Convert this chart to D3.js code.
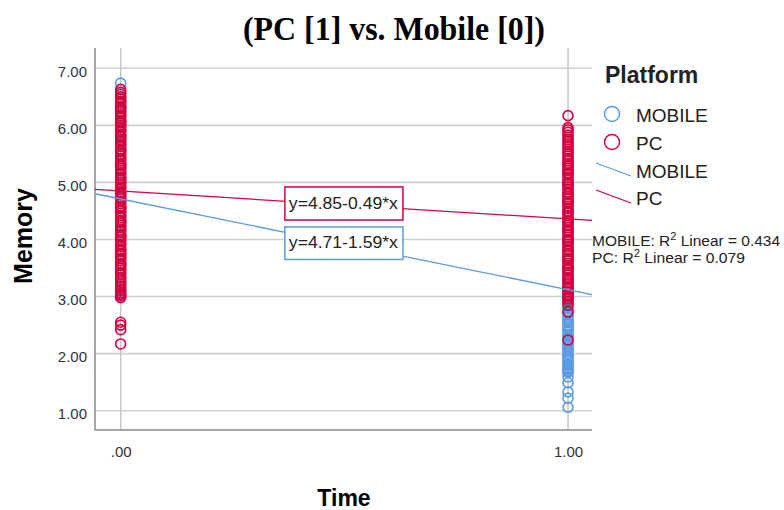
<!DOCTYPE html>
<html>
<head>
<meta charset="utf-8">
<script src="https://cdn.jsdelivr.net/npm/d3@7"></script>
<style>
  body { margin: 0; background: #fff; }
  text { font-family: "Liberation Sans", Arial, sans-serif; }
</style>
</head>
<body>
<svg id="chart" width="784" height="510"></svg>
<script>
// Memory scores by platform, Time 0 and Time 1
const mobileT0 = [3.00, 3.08, 3.17, 3.25, 3.33, 3.42, 3.50, 3.58, 3.67, 3.75, 3.83, 3.92,
  4.00, 4.08, 4.17, 4.25, 4.33, 4.42, 4.50, 4.58, 4.67, 4.75, 4.83, 4.92, 5.00, 5.08,
  5.17, 5.25, 5.33, 5.42, 5.50, 5.58, 5.67, 5.75, 5.83, 5.92, 6.00, 6.08, 6.17, 6.25,
  6.33, 6.42, 6.50, 6.58, 6.74]
const pcT0 = [2.17, 2.42, 2.50, 2.55, 2.98, 3.02, 3.04, 3.06, 3.10, 3.13, 3.17, 3.21,
  3.25, 3.29, 3.33, 3.38, 3.42, 3.46, 3.50, 3.54, 3.56, 3.58, 3.63, 3.67, 3.71, 3.75,
  3.79, 3.81, 3.83, 3.88, 3.92, 3.96, 4.00, 4.04, 4.06, 4.08, 4.13, 4.17, 4.21, 4.25,
  4.29, 4.31, 4.33, 4.38, 4.42, 4.46, 4.50, 4.54, 4.56, 4.58, 4.63, 4.67, 4.71, 4.75,
  4.79, 4.81, 4.83, 4.88, 4.92, 4.96, 5.00, 5.04, 5.06, 5.08, 5.13, 5.17, 5.21, 5.25,
  5.29, 5.31, 5.33, 5.38, 5.42, 5.46, 5.50, 5.54, 5.56, 5.58, 5.63, 5.67, 5.71, 5.75,
  5.79, 5.81, 5.83, 5.88, 5.92, 5.96, 6.00, 6.04, 6.06, 6.08, 6.13, 6.17, 6.21, 6.25,
  6.29, 6.31, 6.33, 6.38, 6.42, 6.46, 6.50, 6.54, 6.58, 6.63]
const mobileT1 = [1.06, 1.22, 1.33, 1.49, 1.59, 1.67, 1.69, 1.71, 1.73, 1.75, 1.79,
  1.81, 1.83, 1.88, 1.92, 1.94, 1.96, 2.00, 2.04, 2.06, 2.08, 2.13, 2.17, 2.19, 2.21,
  2.25, 2.29, 2.31, 2.33, 2.38, 2.42, 2.44, 2.46, 2.50, 2.54, 2.56, 2.58, 2.63, 2.67,
  2.69, 2.71, 2.75, 2.79, 2.81, 2.83, 2.88, 2.92, 2.94, 2.96, 3.00, 3.04, 3.08, 3.17,
  3.25, 3.33, 3.42, 3.50, 3.67, 3.83, 4.00, 4.25]
const pcT1 = [2.24, 2.73, 2.85, 2.92, 2.96, 3.00, 3.02, 3.04, 3.08, 3.13, 3.15, 3.17,
  3.21, 3.25, 3.29, 3.31, 3.33, 3.38, 3.42, 3.46, 3.48, 3.50, 3.54, 3.58, 3.63, 3.65,
  3.67, 3.71, 3.75, 3.79, 3.81, 3.83, 3.88, 3.92, 3.96, 3.98, 4.00, 4.04, 4.08, 4.13,
  4.15, 4.17, 4.21, 4.25, 4.29, 4.31, 4.33, 4.38, 4.42, 4.46, 4.48, 4.50, 4.54, 4.58,
  4.63, 4.65, 4.67, 4.71, 4.75, 4.79, 4.81, 4.83, 4.88, 4.92, 4.96, 4.98, 5.00, 5.04,
  5.08, 5.13, 5.15, 5.17, 5.21, 5.25, 5.29, 5.31, 5.33, 5.38, 5.42, 5.46, 5.50, 5.54,
  5.58, 5.63, 5.67, 5.71, 5.75, 5.79, 5.83, 5.88, 5.92, 5.96, 6.17]

// Linear fits per platform
const platforms = ['MOBILE', 'PC']
const intercepts = [4.71, 4.85]
const slopes = [-1.59, -0.49]
const rSquared = [0.434, 0.079]

// Axis ticks
const xTicks = [0, 1]
const yTicks = [1, 2, 3, 4, 5, 6, 7]

const colors = { MOBILE: '#5b9be4', PC: '#d5023f' }

// Layout
const plot = { left: 95, right: 592, top: 48, bottom: 430 }

const svg = d3.select('#chart')

const x = d3.scaleLinear()
  .domain([-0.0574, 1.0536])
  .range([plot.left, plot.right])

const y = d3.scaleLinear()
  .domain([0.662, 7.355])
  .range([plot.bottom, plot.top])

// Gridlines
svg.append('g')
  .selectAll('line')
  .data(yTicks)
  .join('line')
  .attr('x1', plot.left).attr('x2', plot.right)
  .attr('y1', d => y(d)).attr('y2', d => y(d))
  .attr('stroke', '#d0d0d0').attr('stroke-width', 1.6)

svg.append('g')
  .selectAll('line')
  .data(xTicks)
  .join('line')
  .attr('x1', d => x(d)).attr('x2', d => x(d))
  .attr('y1', plot.top).attr('y2', plot.bottom)
  .attr('stroke', '#c4c4c4').attr('stroke-width', 1.4)

// Y axis
const yAxis = d3.axisLeft(y).tickValues(yTicks).tickFormat(d3.format('.2f')).tickSize(0).tickPadding(8)
const gy = svg.append('g')
  .attr('transform', `translate(${plot.left},0)`)
  .call(yAxis)
gy.select('.domain').remove()
gy.selectAll('text')
  .attr('font-family', '"Liberation Sans", Arial, sans-serif')
  .attr('font-size', 15)
  .attr('fill', '#333')
  .attr('dy', '0.55em')

// X axis
const xAxis = d3.axisBottom(x).tickValues(xTicks)
  .tickFormat(d => d === 0 ? '.00' : d3.format('.2f')(d)).tickSize(0).tickPadding(16)
const gx = svg.append('g')
  .attr('transform', `translate(0,${plot.bottom})`)
  .call(xAxis)
gx.select('.domain').remove()
gx.selectAll('text')
  .attr('font-family', '"Liberation Sans", Arial, sans-serif')
  .attr('font-size', 15)
  .attr('fill', '#333')

// Axis lines
svg.append('line')
  .attr('x1', plot.left).attr('x2', plot.left)
  .attr('y1', plot.top).attr('y2', plot.bottom)
  .attr('stroke', '#8a8a8a').attr('stroke-width', 1.5)
svg.append('line')
  .attr('x1', plot.left).attr('x2', plot.right)
  .attr('y1', plot.bottom).attr('y2', plot.bottom)
  .attr('stroke', '#8a8a8a').attr('stroke-width', 1.5)

// Points: mobile drawn first, pc on top
const groups = [
  { platform: 'MOBILE', time: 0, values: mobileT0 },
  { platform: 'MOBILE', time: 1, values: mobileT1 },
  { platform: 'PC', time: 0, values: pcT0 },
  { platform: 'PC', time: 1, values: pcT1 }
]
const points = groups.flatMap(g => g.values.map(v => ({ platform: g.platform, time: g.time, memory: v })))

svg.append('g')
  .selectAll('circle')
  .data(points)
  .join('circle')
  .attr('cx', d => x(d.time))
  .attr('cy', d => y(d.memory))
  .attr('r', 5)
  .attr('fill', 'none')
  .attr('stroke', d => colors[d.platform])
  .attr('stroke-width', 1.6)

// Fit lines
const fits = platforms.map((p, i) => ({ platform: p, a: intercepts[i], b: slopes[i], r2: rSquared[i] }))
const xDom = x.domain()
svg.append('g')
  .selectAll('line')
  .data(fits)
  .join('line')
  .attr('x1', x(xDom[0])).attr('x2', x(xDom[1]))
  .attr('y1', d => y(d.a + d.b * xDom[0]))
  .attr('y2', d => y(d.a + d.b * xDom[1]))
  .attr('stroke', d => colors[d.platform])
  .attr('stroke-width', 1.3)

// Equation labels (box extents in data units)
const eqBoxes = { PC: [0.367, 0.631, 4.92, 4.34], MOBILE: [0.367, 0.631, 4.22, 3.65] }
const eq = svg.append('g')
  .selectAll('g')
  .data(fits.slice().reverse())
  .join('g')
eq.append('rect')
  .attr('x', d => x(eqBoxes[d.platform][0]))
  .attr('y', d => y(eqBoxes[d.platform][2]))
  .attr('width', d => x(eqBoxes[d.platform][1]) - x(eqBoxes[d.platform][0]))
  .attr('height', d => y(eqBoxes[d.platform][3]) - y(eqBoxes[d.platform][2]))
  .attr('fill', '#fff')
  .attr('stroke', d => colors[d.platform])
  .attr('stroke-width', 1.5)
eq.append('text')
  .attr('x', d => x(eqBoxes[d.platform][0]) + 4)
  .attr('y', d => (y(eqBoxes[d.platform][2]) + y(eqBoxes[d.platform][3])) / 2 + 5)
  .attr('font-size', 16)
  .attr('fill', '#222')
  .attr('textLength', 109)
  .attr('lengthAdjust', 'spacingAndGlyphs')
  .text(d => `y=${d.a.toFixed(2)}-${Math.abs(d.b).toFixed(2)}*x`)

// Title
svg.append('text')
  .attr('x', 394).attr('y', 40)
  .attr('text-anchor', 'middle')
  .style('font-family', '"Liberation Serif", "Times New Roman", serif')
  .attr('font-weight', 'bold')
  .attr('font-size', 33)
  .attr('textLength', 302)
  .attr('lengthAdjust', 'spacingAndGlyphs')
  .text('(PC [1] vs. Mobile [0])')

// Axis titles
svg.append('text')
  .attr('x', 344).attr('y', 506)
  .attr('text-anchor', 'middle')
  .attr('font-weight', 'bold')
  .attr('font-size', 23)
  .text('Time')

svg.append('text')
  .attr('transform', 'translate(32,236) rotate(-90)')
  .attr('text-anchor', 'middle')
  .attr('font-weight', 'bold')
  .attr('font-size', 25)
  .text('Memory')

// Legend
const legend = svg.append('g').attr('transform', 'translate(604,0)')
legend.append('text')
  .attr('x', 1).attr('y', 83)
  .attr('font-weight', 'bold')
  .attr('font-size', 23)
  .attr('fill', '#222')
  .text('Platform')

legend.selectAll('circle')
  .data(platforms)
  .join('circle')
  .attr('cx', 8)
  .attr('cy', (d, i) => 114 + i * 28)
  .attr('r', 7.5)
  .attr('fill', 'none')
  .attr('stroke', d => colors[d])
  .attr('stroke-width', 1.5)

legend.selectAll('line')
  .data(platforms)
  .join('line')
  .attr('x1', -8).attr('x2', 27)
  .attr('y1', (d, i) => 163 + i * 27)
  .attr('y2', (d, i) => 176 + i * 27)
  .attr('stroke', d => colors[d])
  .attr('stroke-width', 1.3)

legend.selectAll('text.item')
  .data(platforms.concat(platforms))
  .join('text')
  .attr('class', 'item')
  .attr('x', 32)
  .attr('y', (d, i) => [122, 150, 178, 205][i])
  .attr('font-size', 19)
  .attr('fill', '#222')
  .text(d => d)

// R squared notes
const r2 = svg.append('g')
  .selectAll('text')
  .data(fits)
  .join('text')
  .attr('x', 592)
  .attr('y', (d, i) => 246 + i * 17)
  .attr('font-size', 14)
  .attr('fill', '#222')
  .attr('textLength', (d, i) => [188, 153][i])
  .attr('lengthAdjust', 'spacingAndGlyphs')
r2.append('tspan').text(d => `${d.platform}: R`)
r2.append('tspan').attr('dy', -6).attr('font-size', 10).text('2')
r2.append('tspan').attr('dy', 6).text(d => ` Linear = ${d3.format('.3f')(d.r2)}`)
</script>
</body>
</html>
